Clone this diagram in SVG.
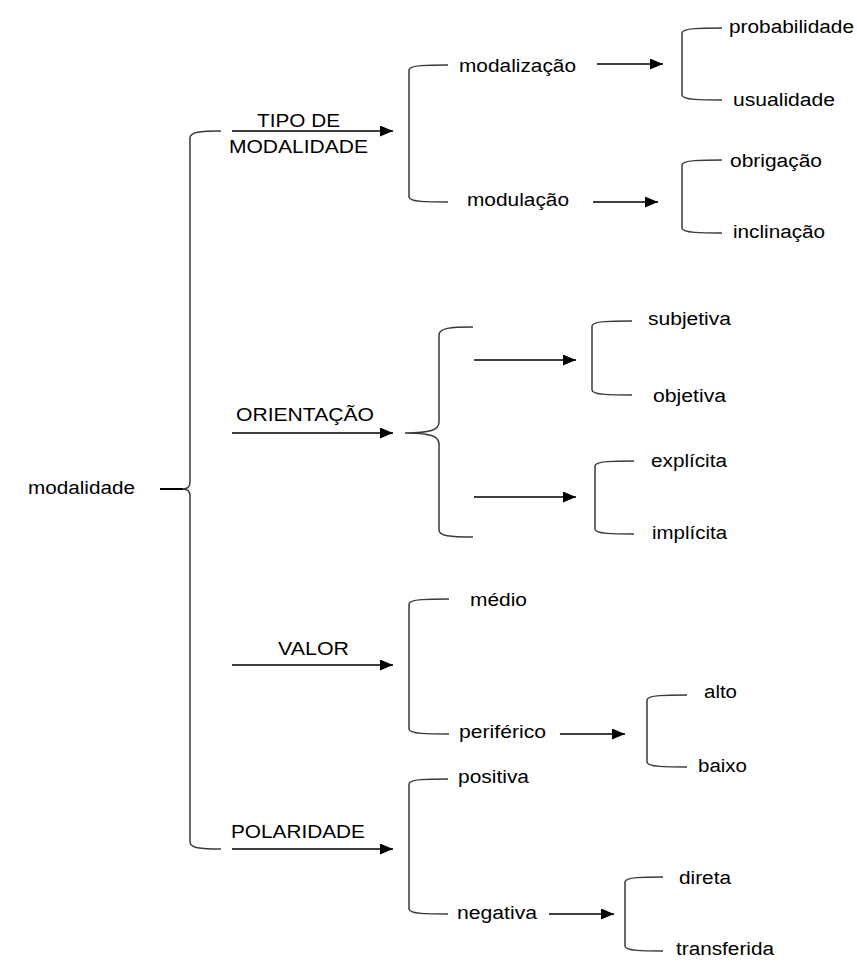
<svg xmlns="http://www.w3.org/2000/svg" width="857" height="967" viewBox="0 0 857 967">
  <style>
    .lbl { font-family: "Liberation Sans", Arial, sans-serif; font-size: 18px; fill: #000; }
    .brk { fill: none; stroke: #3a3a3a; stroke-width: 1.5; }
    .arr { fill: none; stroke: #000; stroke-width: 1.6; marker-end: url(#head); }
    .tick { fill: none; stroke: #000; stroke-width: 2; }
  </style>
  <defs>
    <marker id="head" viewBox="0 0 13 11" refX="13" refY="5.5" markerWidth="13" markerHeight="11" markerUnits="userSpaceOnUse" orient="auto">
      <path d="M0,0 L13,5.5 L0,11 Z" fill="#000"/>
    </marker>
  </defs>
  <rect width="857" height="967" fill="#fff"/>

  <!-- brackets grouping the branches -->
  <g id="brackets">
    <path class="brk" d="M221,131 C200,131 190,132 190,138 L190,482 C190,487 187,489 183,489 C187,489 190,491 190,496 L190,842 C190,848 200,849 221,849"/>
    <path class="brk" d="M473,327 C450,327 439,328 439,335 L439,422 C439,430 430,433 405,433 C430,433 439,436 439,444 L439,530 C439,536 450,537 473,537"/>
    <path class="brk" d="M448,65 C428,65 409,65 409,70 L409,197 C409,202 428,202 448,202"/>
    <path class="brk" d="M722,28 C702,28 682,28 682,33 L682,95 C682,100 702,100 722,100"/>
    <path class="brk" d="M722,160 C702,160 682,160 682,165 L682,228 C682,233 702,233 722,233"/>
    <path class="brk" d="M632,321 C612,321 592,321 592,326 L592,390 C592,395 612,395 632,395"/>
    <path class="brk" d="M634,461 C614,461 595,461 595,466 L595,529 C595,534 614,534 634,534"/>
    <path class="brk" d="M449,599 C429,599 409,599 409,604 L409,729 C409,734 429,734 449,734"/>
    <path class="brk" d="M687,695 C667,695 647,695 647,700 L647,762 C647,767 667,767 687,767"/>
    <path class="brk" d="M448,779 C428,779 409,779 409,784 L409,909 C409,914 428,914 448,914"/>
    <path class="brk" d="M663,877 C644,877 625,877 625,882 L625,946 C625,951 644,951 663,951"/>
  </g>

  <!-- arrows -->
  <g id="connectors">
    <path class="tick" d="M160,489 L183,489"/>
    <path class="arr" d="M232,131 L393,131"/>
    <path class="arr" d="M232,433 L393,433"/>
    <path class="arr" d="M232,665 L393,665"/>
    <path class="arr" d="M232,849 L393,849"/>
    <path class="arr" d="M597,64 L663,64"/>
    <path class="arr" d="M593,202 L658,202"/>
    <path class="arr" d="M474,360 L576,360"/>
    <path class="arr" d="M474,497 L576,497"/>
    <path class="arr" d="M560,734 L625,734"/>
    <path class="arr" d="M549,914 L614,914"/>
  </g>

  <g id="modalidade"><text class="lbl" x="28" y="494" textLength="107" lengthAdjust="spacingAndGlyphs">modalidade</text></g>
  <g id="tipo-de-modalidade">
    <text class="lbl" x="257" y="127" textLength="83" lengthAdjust="spacingAndGlyphs">TIPO DE</text>
    <text class="lbl" x="229" y="153" textLength="139" lengthAdjust="spacingAndGlyphs">MODALIDADE</text>
  </g>
  <g id="orientacao"><text class="lbl" x="236" y="421" textLength="138" lengthAdjust="spacingAndGlyphs">ORIENTAÇÃO</text></g>
  <g id="valor"><text class="lbl" x="278" y="655" textLength="71" lengthAdjust="spacingAndGlyphs">VALOR</text></g>
  <g id="polaridade"><text class="lbl" x="231" y="838" textLength="134" lengthAdjust="spacingAndGlyphs">POLARIDADE</text></g>

  <g id="modalizacao"><text class="lbl" x="459" y="72" textLength="117" lengthAdjust="spacingAndGlyphs">modalização</text></g>
  <g id="modulacao"><text class="lbl" x="467" y="206" textLength="102" lengthAdjust="spacingAndGlyphs">modulação</text></g>
  <g id="probabilidade"><text class="lbl" x="729" y="33" textLength="125" lengthAdjust="spacingAndGlyphs">probabilidade</text></g>
  <g id="usualidade"><text class="lbl" x="733" y="106" textLength="102" lengthAdjust="spacingAndGlyphs">usualidade</text></g>
  <g id="obrigacao"><text class="lbl" x="730" y="167" textLength="92" lengthAdjust="spacingAndGlyphs">obrigação</text></g>
  <g id="inclinacao"><text class="lbl" x="733" y="238" textLength="92" lengthAdjust="spacingAndGlyphs">inclinação</text></g>

  <g id="subjetiva"><text class="lbl" x="648" y="325" textLength="83" lengthAdjust="spacingAndGlyphs">subjetiva</text></g>
  <g id="objetiva"><text class="lbl" x="653" y="402" textLength="73" lengthAdjust="spacingAndGlyphs">objetiva</text></g>
  <g id="explicita"><text class="lbl" x="651" y="467" textLength="76" lengthAdjust="spacingAndGlyphs">explícita</text></g>
  <g id="implicita"><text class="lbl" x="652" y="539" textLength="75" lengthAdjust="spacingAndGlyphs">implícita</text></g>

  <g id="medio"><text class="lbl" x="470" y="606" textLength="57" lengthAdjust="spacingAndGlyphs">médio</text></g>
  <g id="periferico"><text class="lbl" x="459" y="738" textLength="87" lengthAdjust="spacingAndGlyphs">periférico</text></g>
  <g id="alto"><text class="lbl" x="704" y="698" textLength="33" lengthAdjust="spacingAndGlyphs">alto</text></g>
  <g id="baixo"><text class="lbl" x="698" y="772" textLength="49" lengthAdjust="spacingAndGlyphs">baixo</text></g>

  <g id="positiva"><text class="lbl" x="458" y="783" textLength="71" lengthAdjust="spacingAndGlyphs">positiva</text></g>
  <g id="negativa"><text class="lbl" x="457" y="919" textLength="80" lengthAdjust="spacingAndGlyphs">negativa</text></g>
  <g id="direta"><text class="lbl" x="679" y="884" textLength="52" lengthAdjust="spacingAndGlyphs">direta</text></g>
  <g id="transferida"><text class="lbl" x="676" y="955" textLength="98" lengthAdjust="spacingAndGlyphs">transferida</text></g>
</svg>
